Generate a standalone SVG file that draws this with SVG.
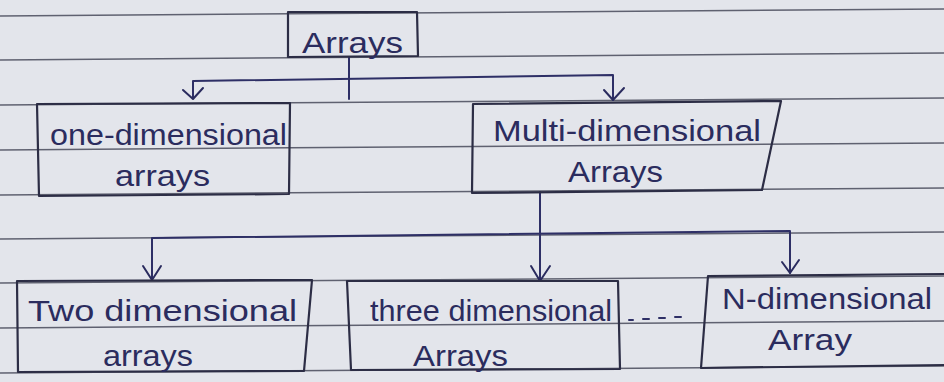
<svg xmlns="http://www.w3.org/2000/svg" width="944" height="382" viewBox="0 0 944 382">
<defs>
<style>
.paper{fill:#e3e5eb}
.rule{stroke:#5f6170;stroke-width:1.5;fill:none}
.box{fill:none;stroke:#2c2d45;stroke-width:2.2;stroke-linejoin:round;stroke-linecap:round}
.wire{fill:none;stroke:#2e2f66;stroke-width:2;stroke-linecap:round;stroke-linejoin:round}
.head{fill:none;stroke:#2a2b5e;stroke-width:2;stroke-linecap:round;stroke-linejoin:round}
.t{font-family:"Liberation Sans","DejaVu Sans",sans-serif;font-size:30px;fill:#2b2c5e}
</style>
</defs>
<rect class="paper" x="0" y="0" width="944" height="382"/>
<g id="ruled-lines">
<line class="rule" x1="0" y1="16" x2="944" y2="9"/>
<line class="rule" x1="0" y1="60" x2="944" y2="53"/>
<line class="rule" x1="0" y1="105" x2="944" y2="98"/>
<line class="rule" x1="0" y1="150" x2="944" y2="143"/>
<line class="rule" x1="0" y1="195" x2="944" y2="188"/>
<line class="rule" x1="0" y1="239" x2="944" y2="232"/>
<line class="rule" x1="0" y1="283" x2="944" y2="276"/>
<line class="rule" x1="0" y1="328" x2="944" y2="321"/>
<line class="rule" x1="0" y1="373" x2="944" y2="366"/>
</g>
<g id="connectors">
<path class="wire" d="M349 57 L349 99"/>
<path class="wire" d="M193 98 L193 81 L613 75 L613 100"/>
<path class="head" d="M183 90 L193 99 L203 88"/>
<path class="head" d="M604 90 L613 100 L624 88"/>
<path class="wire" d="M540 192 L540 281"/>
<path class="head" d="M531 266 L540 281 L550 266"/>
<path class="wire" d="M152 280 L152 238 L790 231 L790 273"/>
<path class="head" d="M143 266 L152 280 L161 266"/>
<path class="head" d="M782 262 L790 273 L799 260"/>
<path class="wire" d="M629 320 L633 320 M643 319 L649 319 M659 318 L665 318 M675 317 L681 317"/>
</g>
<g id="node-arrays">
<path class="box" d="M288 12 L288 57 L418 56 L417 12 Z"/>
<text class="t" x="302" y="53" textLength="101" lengthAdjust="spacingAndGlyphs">Arrays</text>
</g>
<g id="node-one-dimensional">
<path class="box" d="M37 104 L39 196 L289 194 L290 103 Z"/>
<text class="t" x="50" y="145" textLength="237" lengthAdjust="spacingAndGlyphs">one-dimensional</text>
<text class="t" x="115" y="186" textLength="95" lengthAdjust="spacingAndGlyphs">arrays</text>
</g>
<g id="node-multi-dimensional">
<path class="box" d="M473 104 L472 193 L762 190 L781 101 Z"/>
<text class="t" x="493" y="141" textLength="268" lengthAdjust="spacingAndGlyphs">Multi-dimensional</text>
<text class="t" x="568" y="182" textLength="95" lengthAdjust="spacingAndGlyphs">Arrays</text>
</g>
<g id="node-two-dimensional">
<path class="box" d="M17 281 L18 372 L304 371 L312 280 Z"/>
<text class="t" x="28" y="321" textLength="269" lengthAdjust="spacingAndGlyphs">Two dimensional</text>
<text class="t" x="103" y="366" textLength="90" lengthAdjust="spacingAndGlyphs">arrays</text>
</g>
<g id="node-three-dimensional">
<path class="box" d="M347 281 L351 370 L620 369 L618 281 Z"/>
<text class="t" x="370" y="321" textLength="242" lengthAdjust="spacingAndGlyphs">three dimensional</text>
<text class="t" x="413" y="366" textLength="95" lengthAdjust="spacingAndGlyphs">Arrays</text>
</g>
<g id="node-n-dimensional">
<path class="box" d="M944 274 L708 276 L701 368 L944 365"/>
<text class="t" x="722" y="309" textLength="210" lengthAdjust="spacingAndGlyphs">N-dimensional</text>
<text class="t" x="768" y="350" textLength="84" lengthAdjust="spacingAndGlyphs">Array</text>
</g>
</svg>
